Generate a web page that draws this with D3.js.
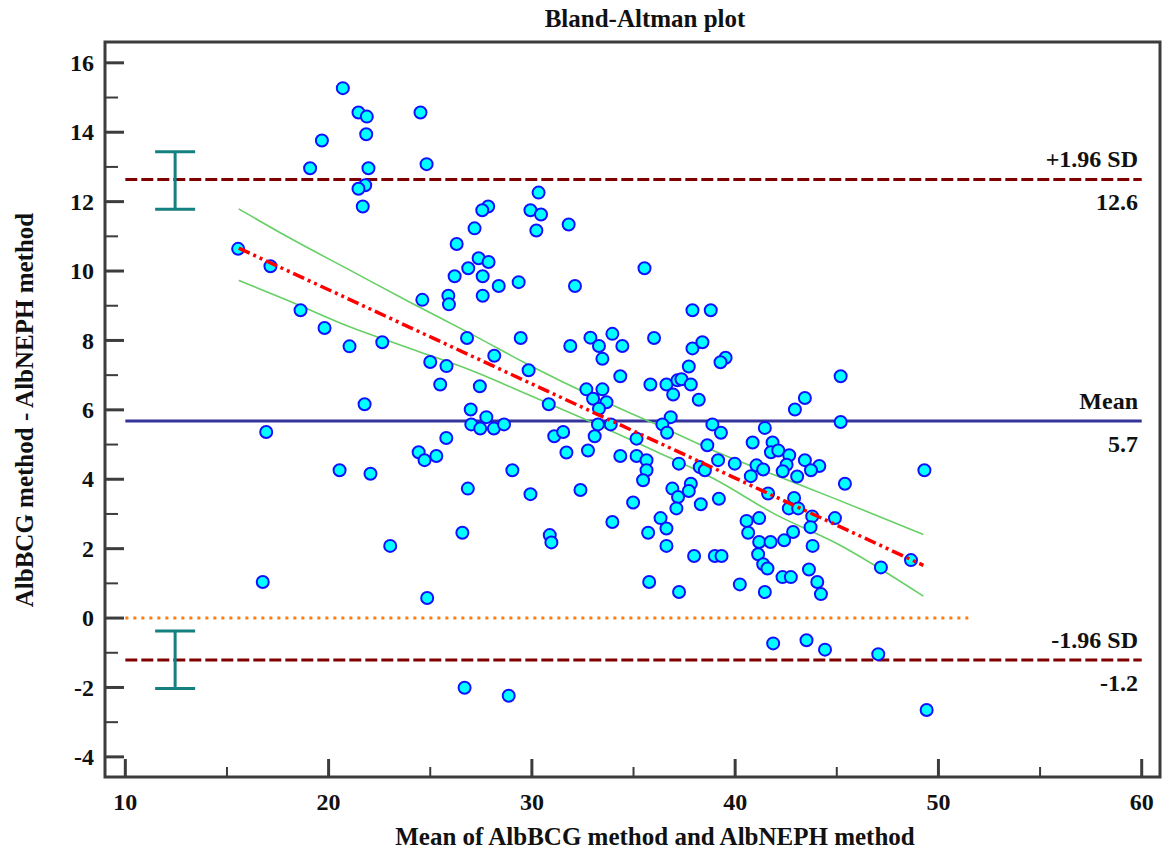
<!DOCTYPE html>
<html>
<head>
<meta charset="utf-8">
<script src="https://cdn.jsdelivr.net/npm/d3@7"></script>
<style>
  body { margin: 0; background: #fff; }
  svg text { font-weight: 700; fill: #111; }
</style>
</head>
<body>
<svg id="chart" width="1163" height="858"></svg>
<script>
// Mean of the two methods (x) and their difference (y), one entry per sample
const meanVals = [
  20.70, 19.67, 19.09, 21.47, 21.88, 21.85, 21.96, 21.80, 21.47, 21.68, 15.55, 17.14,
  24.52, 24.82, 30.33, 27.85, 27.56, 29.93, 30.45, 31.81, 30.22, 27.18, 26.30, 27.38,
  27.87, 26.87, 26.20, 27.58, 28.37, 29.35, 32.12, 35.54, 24.61, 25.89, 27.58, 25.92,
  37.90, 38.80, 33.96, 32.88, 31.89, 33.30, 34.45, 36.01, 37.90, 38.39, 39.53, 39.28,
  33.47, 29.45, 26.81, 28.15, 25.00, 25.80, 29.84, 34.35, 37.72, 25.49, 27.44, 35.83,
  36.62, 36.95, 37.16, 37.36, 37.82, 38.21, 32.68, 33.47, 33.01, 33.67, 33.30, 30.83,
  26.99, 27.76, 27.02, 27.46, 28.13, 28.63, 33.25, 33.88, 36.83, 36.42, 36.65, 38.88,
  39.30, 41.46, 25.79, 31.10, 31.54, 33.09, 35.15, 38.63, 40.86, 41.84, 41.76, 24.43,
  24.72, 25.30, 31.70, 32.76, 34.35, 35.15, 35.64, 35.64, 35.47, 37.23, 38.26, 38.51,
  39.16, 39.98, 40.77, 41.05, 41.38, 41.62, 29.04, 26.85, 29.93, 32.39, 36.91, 37.82,
  37.72, 37.19, 37.11, 34.98, 38.31, 39.20, 33.96, 36.33, 36.62, 35.72, 40.56, 41.18,
  40.64, 41.18, 41.74, 41.13, 41.38, 41.59, 36.62, 37.98, 39.00, 39.33, 26.58, 30.88,
  30.96, 23.03, 24.85, 35.77, 37.24, 40.23, 41.46, 41.87, 26.69, 28.86, 18.62, 19.80,
  21.03, 22.64, 21.77, 16.93, 20.54, 22.06, 16.76, 45.19, 43.43, 42.94, 45.19, 42.12,
  42.66, 42.53, 42.34, 43.43, 44.14, 43.73, 43.05, 45.40, 49.31, 42.90, 42.64, 43.10,
  43.79, 44.91, 43.71, 42.85, 42.41, 43.81, 48.65, 47.17, 42.33, 42.74, 43.63, 44.04,
  44.22, 43.51, 44.42, 47.04, 49.42
];
const diffVals = [
  15.27, 13.76, 12.96, 14.57, 14.45, 13.94, 12.96, 12.47, 12.37, 11.86, 10.64, 10.14,
  14.57, 13.08, 12.26, 11.86, 11.75, 11.75, 11.63, 11.34, 11.17, 11.23, 10.78, 10.37,
  10.26, 10.08, 9.85, 9.85, 9.57, 9.68, 9.57, 10.08, 9.17, 9.29, 9.29, 9.04,
  8.87, 8.87, 8.19, 8.08, 7.84, 7.84, 7.84, 8.07, 7.77, 7.95, 7.50, 7.37,
  7.47, 8.07, 8.07, 7.56, 7.38, 7.26, 7.14, 6.97, 7.25, 6.73, 6.68, 6.73,
  6.73, 6.44, 6.85, 6.88, 6.73, 6.29, 6.59, 6.59, 6.32, 6.22, 6.03, 6.16,
  6.01, 5.79, 5.58, 5.46, 5.46, 5.58, 5.58, 5.58, 5.79, 5.58, 5.34, 5.58,
  5.34, 5.48, 5.19, 5.24, 5.36, 5.24, 5.17, 4.98, 5.06, 5.06, 4.78, 4.78,
  4.55, 4.67, 4.77, 4.83, 4.67, 4.67, 4.55, 4.26, 3.97, 4.45, 4.35, 4.26,
  4.55, 4.45, 4.09, 4.40, 4.28, 3.59, 4.26, 3.73, 3.57, 3.69, 3.73, 3.87,
  3.66, 3.49, 3.16, 3.33, 3.28, 3.44, 2.77, 2.88, 2.58, 2.46, 2.80, 2.88,
  2.46, 2.19, 2.19, 1.84, 1.55, 1.43, 2.08, 1.79, 1.79, 1.79, 2.46, 2.39,
  2.18, 2.08, 0.58, 1.04, 0.75, 0.97, 0.75, -0.73, -2.01, -2.24, 8.87, 8.36,
  7.83, 7.95, 6.16, 5.36, 4.26, 4.16, 1.04, 6.97, 6.34, 6.01, 5.65, 4.83,
  4.69, 4.42, 4.23, 4.55, 4.38, 4.26, 4.08, 3.87, 4.26, 3.46, 3.16, 3.16,
  2.93, 2.88, 2.62, 2.48, 2.24, 2.08, 1.67, 1.46, 1.18, 1.18, 1.40, 1.04,
  0.69, -0.64, -0.91, -1.04, -2.65
];

// Limits of agreement + mean difference
const limitNames = ["+1.96 SD", "Mean", "-1.96 SD"];
const limitVals = [12.64, 5.68, -1.21];
const limitLabels = ["12.6", "5.7", "-1.2"];

// 95% CI bars for the limits of agreement
const ciBarX = 12.45;
const ciBarLow = [11.78, -2.03];
const ciBarHigh = [13.44, -0.37];

// Regression line of differences and its confidence band
const regX = [15.58, 49.26];
const regY = [10.66, 1.52];
const bandX = [15.58, 18, 21, 24, 27, 30, 33, 36, 39, 42, 45, 49.26];
const bandUpper = [11.79, 10.98, 10.04, 9.10, 8.19, 7.25, 6.39, 5.61, 4.81, 4.11, 3.42, 2.41];
const bandLower = [9.73, 9.15, 8.40, 7.77, 7.14, 6.39, 5.63, 4.83, 4.00, 2.98, 2.15, 0.63];

// Zero difference line extent
const zeroX = [10, 51.5];

const xTicks = [10, 20, 30, 40, 50, 60];
const yTicks = [-4, -2, 0, 2, 4, 6, 8, 10, 12, 14, 16];

const svg = d3.select("#chart");
// Try every installed serif name before the generic fallback
const FONT = "'Liberation Serif', 'Times New Roman', Times, 'Nimbus Roman', 'Nimbus Roman No9 L', 'Noto Serif', 'DejaVu Serif', serif";

let plotLeft = 105, plotRight = 1160, plotTop = 42, plotBottom = 777;

let x = d3.scaleLinear().domain([9, 60.9]).range([plotLeft, plotRight]);
let y = d3.scaleLinear().domain([-4.58, 16.6]).range([plotBottom, plotTop]);

// Title
svg.append("text")
  .attr("x", 645)
  .attr("y", 27)
  .attr("text-anchor", "middle")
  .style("font-family", FONT)
  .style("font-size", "25px")
  .text("Bland-Altman plot");

let plot = svg.append("g").attr("id", "plot");

// Zero line (dotted orange)
plot.append("line")
  .attr("x1", x(zeroX[0]))
  .attr("x2", x(zeroX[1]))
  .attr("y1", y(0))
  .attr("y2", y(0))
  .style("stroke", "#ff7f0e")
  .style("stroke-width", 3)
  .style("stroke-dasharray", "3 5");

// Limits lines
limitVals.forEach((v, i) => {
  let isMean = limitNames[i] === "Mean";
  let line = plot.append("line")
    .attr("x1", x(10))
    .attr("x2", x(60))
    .attr("y1", y(v))
    .attr("y2", y(v))
    .style("stroke", isMean ? "#333399" : "#800000")
    .style("stroke-width", 3);

  if (!isMean) {
    line.style("stroke-dasharray", "12 4");
  }

  plot.append("text")
    .attr("x", 1138)
    .attr("y", y(v) - 12)
    .attr("text-anchor", "end")
    .style("font-family", FONT)
    .style("font-size", "24px")
    .text(limitNames[i]);

  plot.append("text")
    .attr("x", 1138)
    .attr("y", y(v) + 31)
    .attr("text-anchor", "end")
    .style("font-family", FONT)
    .style("font-size", "24px")
    .text(limitLabels[i]);
});

// CI error bars on the limits
ciBarLow.forEach((lo, i) => {
  let hi = ciBarHigh[i];
  let g = plot.append("g").style("stroke", "#148080").style("stroke-width", 3);
  g.append("line")
    .attr("x1", x(ciBarX)).attr("x2", x(ciBarX))
    .attr("y1", y(lo)).attr("y2", y(hi));
  [lo, hi].forEach(v => {
    g.append("line")
      .attr("x1", x(ciBarX) - 20).attr("x2", x(ciBarX) + 20)
      .attr("y1", y(v)).attr("y2", y(v));
  });
});

// Confidence band of regression
let bandLine = d3.line()
  .x(d => x(d[0]))
  .y(d => y(d[1]))
  .curve(d3.curveMonotoneX);

[bandUpper, bandLower].forEach(vals => {
  plot.append("path")
    .attr("d", bandLine(bandX.map((bx, i) => [bx, vals[i]])))
    .style("fill", "none")
    .style("stroke", "#66d066")
    .style("stroke-width", 1.6);
});

// Scatter points
plot.selectAll("circle.pt")
  .data(meanVals.map((m, i) => [m, diffVals[i]]))
  .join("circle")
  .attr("class", "pt")
  .attr("cx", d => x(d[0]))
  .attr("cy", d => y(d[1]))
  .attr("r", 6)
  .style("fill", "#00ffff")
  .style("stroke", "#1010ff")
  .style("stroke-width", 2);

// Regression line (dash-dot-dot red)
plot.append("line")
  .attr("x1", x(regX[0]))
  .attr("x2", x(regX[1]))
  .attr("y1", y(regY[0]))
  .attr("y2", y(regY[1]))
  .style("stroke", "#ff0000")
  .style("stroke-width", 3.5)
  .style("stroke-dasharray", "12 4 3 4 3 4");

// Frame
svg.append("rect")
  .attr("x", plotLeft)
  .attr("y", plotTop)
  .attr("width", plotRight - plotLeft)
  .attr("height", plotBottom - plotTop)
  .style("fill", "none")
  .style("stroke", "#3c3c3c")
  .style("stroke-width", 3);

// Y axis ticks (pointing inward) + labels
let yAxis = svg.append("g").attr("transform", `translate(${plotLeft},0)`);
d3.range(-4, 17).forEach(v => {
  let major = v % 2 === 0;
  yAxis.append("line")
    .attr("x1", 0).attr("x2", major ? 19 : 13)
    .attr("y1", y(v)).attr("y2", y(v))
    .style("stroke", "#3c3c3c")
    .style("stroke-width", major ? 3 : 2);
});
yAxis.selectAll("text.tick")
  .data(yTicks)
  .join("text")
  .attr("class", "tick")
  .attr("x", -11)
  .attr("y", d => y(d))
  .attr("dy", "0.34em")
  .attr("text-anchor", "end")
  .style("font-family", FONT)
  .style("font-size", "24px")
  .text(d => d);

// X axis ticks (pointing inward) + labels
let xAxis = svg.append("g").attr("transform", `translate(0,${plotBottom})`);
d3.range(10, 61, 5).forEach(v => {
  let major = v % 10 === 0;
  xAxis.append("line")
    .attr("x1", x(v)).attr("x2", x(v))
    .attr("y1", 0).attr("y2", major ? -18 : -10)
    .style("stroke", "#3c3c3c")
    .style("stroke-width", major ? 3 : 2);
});
xAxis.selectAll("text.tick")
  .data(xTicks)
  .join("text")
  .attr("class", "tick")
  .attr("x", d => x(d))
  .attr("y", 33)
  .attr("text-anchor", "middle")
  .style("font-family", FONT)
  .style("font-size", "24px")
  .text(d => d);

// Axis titles
svg.append("text")
  .attr("x", 655)
  .attr("y", 845)
  .attr("text-anchor", "middle")
  .style("font-family", FONT)
  .style("font-size", "25px")
  .text("Mean of AlbBCG method and AlbNEPH method");

svg.append("text")
  .attr("transform", "translate(33,410) rotate(-90)")
  .attr("text-anchor", "middle")
  .style("font-family", FONT)
  .style("font-size", "25px")
  .text("AlbBCG method - AlbNEPH method");
</script>
</body>
</html>
